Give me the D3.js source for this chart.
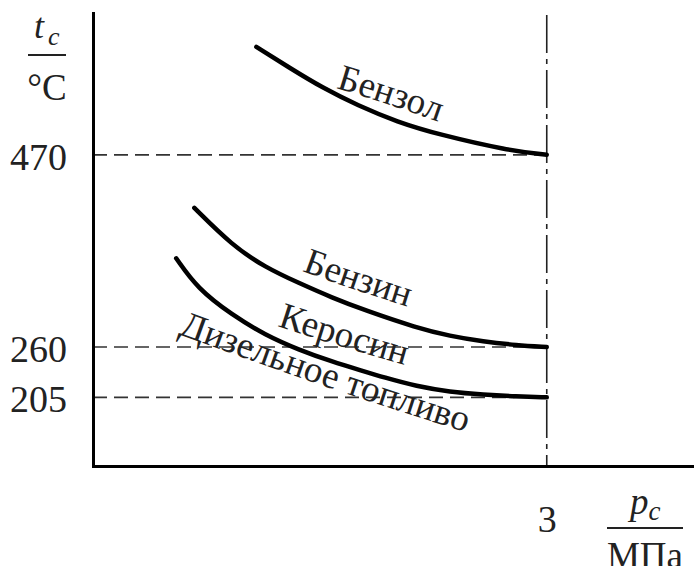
<!DOCTYPE html>
<html>
<head>
<meta charset="utf-8">
<script src="https://cdn.jsdelivr.net/npm/d3@7"></script>
<style>
  html, body { margin: 0; padding: 0; background: #fff; }
  svg { display: block; }
</style>
</head>
<body>
<svg id="chart" width="694" height="566"></svg>
<script>
// ---- data ----
const tTicks = [205, 260, 470];          // °C
const pTicks = [3];                      // MPa
const curveNames = ["Бензол", "Бензин", "Дизельное топливо"];
const benzolP = [1.08, 1.30, 1.52, 1.75, 2.01, 2.29, 2.74, 3.0];
const benzolT = [588, 565, 543, 524, 506, 492, 475, 470];
const benzinP = [0.67, 0.92, 1.14, 1.36, 1.58, 1.80, 2.14, 2.36, 2.58, 2.80, 3.0];
const benzinT = [412, 371, 347, 330, 314, 300, 281, 272, 266, 262, 260];
const dieselP = [0.55, 0.69, 0.92, 1.14, 1.36, 1.58, 1.78, 1.92, 2.14, 2.36, 2.58, 2.80, 3.0];
const dieselT = [357, 324, 295, 273, 257, 244, 234, 227, 217, 211, 208, 206, 205];
const labelTexts = ["Бензол", "Бензин", "Керосин", "Дизельное топливо"];

// ---- layout ----
const svg = d3.select("#chart");
const FONT = "'Liberation Serif', 'Times New Roman', serif";
const x = d3.scaleLinear().domain([0, 4]).range([93, 698]);
const y = d3.scaleLinear().domain([130, 625]).range([466, 13]);

const series = [
  {p: benzolP, t: benzolT},
  {p: benzinP, t: benzinT},
  {p: dieselP, t: dieselT}
].map(s => s.p.map((v, i) => [v, s.t[i]]));

// dashed reference lines
svg.append("g").selectAll("line").data(tTicks).join("line")
  .attr("x1", x(0)).attr("x2", x(pTicks[0]))
  .attr("y1", d => y(d)).attr("y2", d => y(d))
  .attr("stroke", "#333").attr("stroke-width", 1.6)
  .attr("stroke-dasharray", "14,7");

// dash-dot vertical line at p = 3
svg.append("line")
  .attr("x1", x(pTicks[0])).attr("x2", x(pTicks[0]))
  .attr("y1", y(y.domain()[1]) + 2).attr("y2", y(y.domain()[0]))
  .attr("stroke", "#222").attr("stroke-width", 1.6)
  .attr("stroke-dasharray", "38,6,5,6");

// curves
const line = d3.line().x(d => x(d[0])).y(d => y(d[1])).curve(d3.curveBasis);
svg.append("g").selectAll("path").data(series).join("path")
  .attr("d", line)
  .attr("fill", "none").attr("stroke", "#000")
  .attr("stroke-width", 4.5).attr("stroke-linecap", "round");

// axes
const yAxis = d3.axisLeft(y).tickValues(tTicks).tickSize(0).tickSizeOuter(0)
  .tickPadding(26).tickFormat(d3.format("d"));
const gy = svg.append("g").attr("transform", `translate(${x(0)},0)`).call(yAxis);
gy.select(".domain").attr("stroke", "#000").attr("stroke-width", 3).attr("stroke-linecap", "square");
gy.selectAll("text").attr("font-family", FONT).attr("font-size", 38)
  .attr("fill", "#222").attr("dy", "0.38em");

const xAxis = d3.axisBottom(x).tickValues(pTicks).tickSize(0).tickSizeOuter(0)
  .tickFormat(d3.format("d"));
const gx = svg.append("g").attr("transform", `translate(0,${y(y.domain()[0])})`).call(xAxis);
gx.select(".domain").attr("stroke", "#000").attr("stroke-width", 3).attr("stroke-linecap", "square");
gx.selectAll("text").attr("font-family", FONT).attr("font-size", 38)
  .attr("fill", "#222").attr("y", 66).attr("dy", 0);

// curve labels along paths
const labelPaths = [
  [[336, 88], [390, 105], [462, 130]],
  [[302, 271], [356, 290], [425, 312]],
  [[277, 326], [340, 346], [415, 368]],
  [[178, 334], [333, 389], [490, 440]]
];
const defs = svg.append("defs");
const lpath = d3.line().curve(d3.curveNatural);
labelPaths.forEach((pts, i) => {
  defs.append("path").attr("id", "lp" + i).attr("d", lpath(pts));
});
const lt = svg.append("g").attr("font-family", FONT).attr("font-size", 37).attr("fill", "#222");
labelTexts.forEach((t, i) => {
  lt.append("text").append("textPath").attr("href", "#lp" + i).text(t);
});

// axis titles
const ty = svg.append("g").attr("font-family", FONT).attr("fill", "#222");
const tt = ty.append("text").attr("x", 34).attr("y", 38).attr("font-size", 36).attr("font-style", "italic");
tt.append("tspan").text("t");
tt.append("tspan").attr("dx", 4).attr("dy", 7).attr("font-size", 26).text("c");
ty.append("line").attr("x1", 28).attr("x2", 66).attr("y1", 55).attr("y2", 55)
  .attr("stroke", "#222").attr("stroke-width", 2);
ty.append("text").attr("x", 47).attr("y", 100).attr("font-size", 37)
  .attr("text-anchor", "middle").text("°C");

const tx = svg.append("g").attr("font-family", FONT).attr("fill", "#222");
const tp = tx.append("text").attr("x", 630).attr("y", 514).attr("font-size", 37).attr("font-style", "italic");
tp.append("tspan").text("p");
tp.append("tspan").attr("dy", 6).attr("font-size", 27).text("c");
tx.append("line").attr("x1", 607).attr("x2", 683).attr("y1", 528).attr("y2", 528)
  .attr("stroke", "#222").attr("stroke-width", 2);
tx.append("text").attr("x", 645).attr("y", 568).attr("font-size", 37)
  .attr("text-anchor", "middle").text("МПа");
</script>
</body>
</html>
